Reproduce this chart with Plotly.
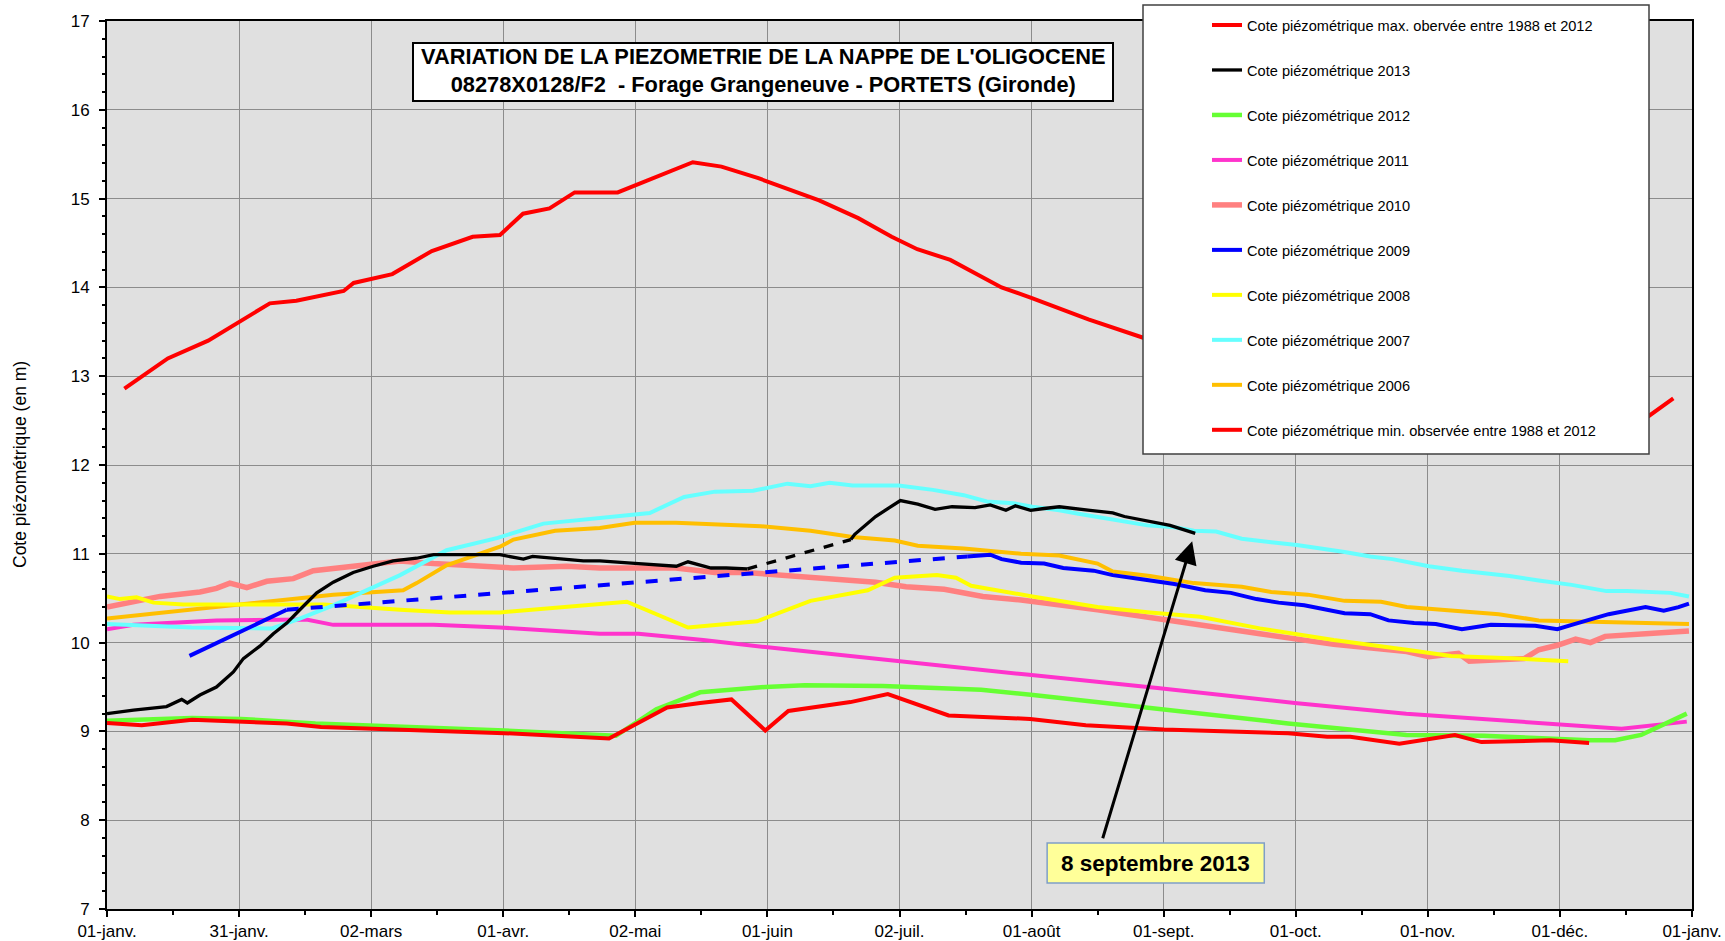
import plotly.graph_objects as go

# ---------------- data (day of year, 0 = 1 Jan) ----------------
tick_labels = ["01-janv.", "31-janv.", "02-mars", "01-avr.", "02-mai", "01-juin",
               "02-juil.", "01-août", "01-sept.", "01-oct.", "01-nov.", "01-déc.", "01-janv."]

max_days = [4, 14, 23.3, 37.5, 43.6, 54.5, 56.8, 61.3, 65.7, 74.8, 84.2, 90.5, 95.8, 101.9,
            107.7, 117.6, 134.9, 141.5, 150, 164, 173, 180.7, 186.6, 194.2, 206, 213, 226,
            238.8, 250, 270, 290, 310, 330, 345, 355, 360.7]
max_vals = [12.86, 13.2, 13.4, 13.82, 13.85, 13.96, 14.05, 14.1, 14.15, 14.41, 14.57, 14.59,
            14.83, 14.89, 15.07, 15.07, 15.41, 15.36, 15.23, 14.98, 14.78, 14.57, 14.43, 14.31,
            14.0, 13.88, 13.64, 13.43, 13.27, 12.98, 12.7, 12.45, 12.3, 12.35, 12.55, 12.75]

min_days = [0, 8, 19.6, 30.9, 41.4, 49.3, 60.7, 91.5, 115.6, 129, 136.6, 143.8, 151.6, 156.9,
            171.2, 179.8, 193.8, 212.6, 225.4, 243.4, 272, 281, 286.3, 297.6, 310.4, 316.5,
            332.3, 341.3]
min_vals = [9.095, 9.07, 9.13, 9.11, 9.09, 9.05, 9.03, 8.98, 8.92, 9.27, 9.32, 9.36, 9.01, 9.23,
            9.33, 9.42, 9.18, 9.14, 9.07, 9.02, 8.98, 8.94, 8.94, 8.86, 8.96, 8.88, 8.90, 8.87]

y2013_days = [0, 6.1, 13.7, 17.2, 18.5, 21.4, 25.2, 29.1, 31.4, 35.2, 38.3, 41.4, 44.4, 48.3,
              52.1, 56.7, 61.3, 65.9, 71.3, 75.2, 81.3, 90.5, 95.9, 98, 109.7, 113.5, 122.4,
              131.1, 133.8, 139.1, 142.6, 147.5]
y2013_vals = [9.20, 9.24, 9.28, 9.36, 9.32, 9.41, 9.50, 9.67, 9.82, 9.96, 10.10, 10.22, 10.37,
              10.56, 10.68, 10.79, 10.86, 10.92, 10.95, 10.99, 10.99, 10.99, 10.94, 10.97, 10.92,
              10.92, 10.89, 10.86, 10.91, 10.84, 10.84, 10.83]
y2013b_days = [171.3, 172.2, 177, 182.7, 186.7, 190.7, 194.6, 199.9, 203.4, 207, 209.2, 212.7,
               215.8, 219.3, 226.4, 231.6, 234.3, 239.6, 244.8, 250.6]
y2013b_vals = [11.16, 11.22, 11.42, 11.60, 11.56, 11.50, 11.53, 11.52, 11.55, 11.49, 11.54,
               11.49, 11.51, 11.53, 11.49, 11.46, 11.42, 11.37, 11.32, 11.23]
y2013_gap_days = [147.5, 171.3]
y2013_gap_vals = [10.83, 11.16]

y2012_days = [0, 19.6, 30.9, 48, 91.5, 115.2, 117.2, 126.5, 136.6, 151.6, 160.7, 178.7, 201.3,
              213.3, 243.4, 272, 299.2, 317, 341.3, 347.3, 353.3, 363.8]
y2012_vals = [9.12, 9.15, 9.14, 9.09, 9.01, 8.95, 8.95, 9.25, 9.44, 9.50, 9.52, 9.51, 9.47,
              9.41, 9.24, 9.09, 8.96, 8.95, 8.90, 8.90, 8.96, 9.20]

y2011_days = [0, 6.1, 25.2, 44.4, 45.9, 52.1, 63.5, 75.2, 90.5, 113.5, 122.4, 137.3, 151.6,
              180.2, 211.8, 241.9, 273.5, 299.2, 332.3, 348.8, 363.8]
y2011_vals = [10.15, 10.20, 10.25, 10.25, 10.26, 10.20, 10.20, 10.20, 10.17, 10.10, 10.10,
              10.03, 9.95, 9.80, 9.64, 9.49, 9.32, 9.20, 9.08, 9.03, 9.11]

y2010_days = [0, 6.1, 12.2, 21.4, 25.2, 28.3, 32.2, 36.8, 42.9, 47.5, 53.7, 61.3, 67.5, 75.2,
              85.9, 93.6, 105.9, 113.5, 131, 140, 147, 155.8, 162.9, 177, 184, 192.8, 201.7,
              210.5, 228.1, 241.4, 251.7, 265.5, 282.5, 299.3, 304.4, 311.2, 313.7, 320.5,
              326.4, 329.7, 334, 338.2, 341.6, 345, 350, 354.3, 364.3]
y2010_vals = [10.40, 10.46, 10.52, 10.57, 10.61, 10.67, 10.62, 10.69, 10.72, 10.81, 10.84,
              10.89, 10.92, 10.89, 10.86, 10.84, 10.86, 10.84, 10.84, 10.79, 10.79, 10.76,
              10.73, 10.68, 10.63, 10.60, 10.52, 10.48, 10.37, 10.27, 10.20, 10.10, 9.98,
              9.90, 9.84, 9.88, 9.79, 9.80, 9.82, 9.92, 9.97, 10.04, 10.00, 10.07, 10.09,
              10.10, 10.13]

y2009_days = [19, 41.4]
y2009_vals = [9.85, 10.37]
y2009_gap_days = [41.4, 198.1]
y2009_gap_vals = [10.37, 10.97]
y2009b_days = [198.1, 201.6, 203.4, 206, 210.5, 215.8, 220.2, 227.2, 231.6, 238.7, 245.8,
               252.9, 258.8, 264.7, 269.8, 275.7, 285, 290.9, 295.1, 301, 306, 312, 318.7,
               328.9, 334, 337.3, 345.8, 354.3, 358.5, 361.9, 364.3]
y2009b_vals = [10.97, 10.98, 10.99, 10.94, 10.90, 10.89, 10.84, 10.81, 10.76, 10.71, 10.66,
               10.59, 10.56, 10.49, 10.45, 10.42, 10.33, 10.32, 10.25, 10.22, 10.21, 10.15,
               10.20, 10.19, 10.15, 10.20, 10.32, 10.40, 10.36, 10.40, 10.44]

y2008_days = [0, 3, 6.8, 10.7, 17.6, 50, 67.5, 79, 90.5, 113.5, 119.7, 133.8, 149.7, 162,
              175.2, 181.4, 191.1, 195.5, 199, 213.1, 228.1, 240.2, 251.7, 265.5, 282.5,
              299.3, 309.5, 324.7, 336.5]
y2008_vals = [10.52, 10.49, 10.51, 10.45, 10.43, 10.43, 10.37, 10.34, 10.34, 10.44, 10.46,
              10.17, 10.24, 10.47, 10.59, 10.73, 10.76, 10.73, 10.64, 10.52, 10.40, 10.34,
              10.29, 10.16, 10.03, 9.92, 9.85, 9.82, 9.79]

y2007_days = [0, 19.5, 38, 44.4, 52.1, 59.8, 67.5, 78.2, 90, 100.5, 113.5, 125, 132.9, 140,
              148.8, 156.7, 162, 166.4, 171.7, 182.3, 190.2, 197.3, 202.6, 208.7, 213.1,
              219.3, 223.7, 230.8, 239.6, 245.8, 250.3, 255.4, 261.3, 268.1, 274, 285,
              290.9, 296, 304.4, 312, 323, 329.7, 337.3, 345.3, 350, 360.1, 364.3]
y2007_vals = [10.21, 10.17, 10.16, 10.27, 10.42, 10.59, 10.76, 11.04, 11.18, 11.34, 11.40,
              11.46, 11.64, 11.70, 11.71, 11.79, 11.76, 11.80, 11.77, 11.77, 11.72, 11.66,
              11.59, 11.57, 11.53, 11.49, 11.45, 11.39, 11.32, 11.30, 11.26, 11.25, 11.17,
              11.13, 11.10, 11.02, 10.97, 10.94, 10.86, 10.81, 10.75, 10.70, 10.65, 10.58,
              10.58, 10.56, 10.52]

y2006_days = [0, 29.1, 52.1, 68.2, 71.3, 78.2, 82.8, 90.5, 93.6, 103.2, 113.5, 121.5, 131,
              150.6, 162, 171.7, 181.4, 186.7, 197.3, 206.1, 210.5, 219.3, 228.1, 231.6,
              236.9, 240.2, 250.3, 261.3, 268.1, 276.5, 285, 293.4, 299.3, 307.8, 320.5,
              329.7, 337.3, 350, 364.3]
y2006_vals = [10.27, 10.42, 10.54, 10.59, 10.67, 10.87, 10.95, 11.08, 11.16, 11.26, 11.29,
              11.35, 11.35, 11.31, 11.26, 11.19, 11.15, 11.09, 11.06, 11.02, 11.00, 10.98,
              10.89, 10.80, 10.77, 10.75, 10.67, 10.63, 10.57, 10.54, 10.47, 10.46, 10.40,
              10.37, 10.32, 10.25, 10.24, 10.23, 10.21]

# ---------------- figure ----------------
FONT = "Liberation Sans, Arial, sans-serif"
YEAR = 365.0
tickvals = [i * YEAR / 12 for i in range(13)]
minorvals = [(i + 0.5) * YEAR / 12 for i in range(12)]

fig = go.Figure()


def add(days, vals, name, color, width, rank, dash="solid", legend=True):
    fig.add_trace(go.Scatter(
        x=days, y=vals, mode="lines", name=name,
        line=dict(color=color, width=width, dash=dash),
        showlegend=legend, legendgroup=name if legend else None,
        legendrank=rank, hoverinfo="skip"))


lab = "Cote piézométrique "
# drawing order (bottom -> top)
add(y2010_days, y2010_vals, lab + "2010", "#ff8080", 5.5, 5)
add(y2006_days, y2006_vals, lab + "2006", "#ffbf00", 4, 9)
add(y2008_days, y2008_vals, lab + "2008", "#ffff00", 4, 7)
add(y2011_days, y2011_vals, lab + "2011", "#ff33cc", 4, 4)
add(y2012_days, y2012_vals, lab + "2012", "#66ff33", 4.5, 3)
add(min_days, min_vals, lab + "min. observée entre 1988 et 2012", "#ff0000", 4, 10)
add(max_days, max_vals, lab + "max. obervée entre 1988 et 2012", "#ff0000", 4, 1)
add(y2007_days, y2007_vals, lab + "2007", "#66ffff", 4, 8)
add(y2009_days, y2009_vals, lab + "2009", "#0000ff", 4, 6)
add(y2009_gap_days, y2009_gap_vals, "2009 gap", "#0000ff", 4, 99, dash="dash", legend=False)
add(y2009b_days, y2009b_vals, "2009b", "#0000ff", 4, 99, legend=False)
add(y2013_days, y2013_vals, lab + "2013", "#000000", 3.3, 2)
add(y2013_gap_days, y2013_gap_vals, "2013 gap", "#000000", 3.3, 99, dash="dash", legend=False)
add(y2013b_days, y2013b_vals, "2013b", "#000000", 3.3, 99, legend=False)

W, H = 1725, 941
L, R, T, B = 107, 33, 21, 32
pw, ph = W - L - R, H - T - B


def px(x):
    return (x - L) / pw


def py(y):
    return (H - B - y) / ph


shapes = [
    # legend box
    dict(type="rect", xref="paper", yref="paper", x0=px(1143), x1=px(1649), y0=py(454), y1=py(5),
         fillcolor="white", line=dict(color="#404040", width=1.5), layer="above"),
    # title box
    dict(type="rect", xref="paper", yref="paper", x0=px(413), x1=px(1113), y0=py(101), y1=py(43),
         fillcolor="white", line=dict(color="black", width=2), layer="above"),
    # date label box
    dict(type="rect", xref="x", yref="y", x0=216.5, x1=266.5, y0=7.293, y1=7.743,
         fillcolor="#ffff99", line=dict(color="#7f9fc7", width=1.5), layer="above"),
]

annotations = [
    dict(xref="paper", yref="paper", x=px(763), y=py(71), xanchor="center", yanchor="middle",
         text="VARIATION DE LA PIEZOMETRIE DE LA NAPPE DE L'OLIGOCENE<br>"
              "08278X0128/F2  - Forage Grangeneuve - PORTETS (Gironde)",
         showarrow=False, font=dict(family=FONT, size=21.8, color="black", weight="bold")),
    dict(xref="x", yref="y", x=241.5, y=7.518, xanchor="center", yanchor="middle",
         text="8 septembre 2013", showarrow=False,
         font=dict(family=FONT, size=22.5, color="black", weight="bold")),
    dict(xref="x", yref="y", axref="x", ayref="y", x=249.9, y=11.14, ax=229.2, ay=7.78,
         text="", showarrow=True, arrowhead=2, arrowsize=1.5, arrowwidth=3, arrowcolor="black"),
    dict(xref="paper", yref="paper", x=px(20), y=0.5, xanchor="center", yanchor="middle",
         text="Cote piézométrique (en m)", textangle=-90, showarrow=False,
         font=dict(family=FONT, size=17.5, color="black")),
]

fig.update_layout(
    width=W, height=H,
    margin=dict(l=L, r=R, t=T, b=B, pad=0, autoexpand=False),
    paper_bgcolor="white", plot_bgcolor="#e0e0e0",
    font=dict(family=FONT, size=17, color="black"),
    shapes=shapes, annotations=annotations,
    showlegend=True,
    legend=dict(x=px(1207), y=py(9), xanchor="left", yanchor="top",
                bgcolor="rgba(0,0,0,0)", borderwidth=0, tracegroupgap=23,
                traceorder="grouped",
                font=dict(family=FONT, size=14.6, color="black")),
    xaxis=dict(range=[0, YEAR], tickmode="array", tickvals=tickvals, ticktext=tick_labels,
               showgrid=True, gridcolor="#8c8c8c", gridwidth=1.3, zeroline=False,
               showline=True, linecolor="black", linewidth=2, mirror=True,
               ticks="outside", ticklen=6, tickwidth=2, tickcolor="black",
               tickfont=dict(family=FONT, size=17),
               minor=dict(tickmode="array", tickvals=minorvals, ticks="outside", ticklen=4,
                          tickwidth=2, tickcolor="black", showgrid=False),
               automargin=False, fixedrange=True),
    yaxis=dict(range=[7, 17], tickmode="linear", tick0=7, dtick=1,
               showgrid=True, gridcolor="#8c8c8c", gridwidth=1.3, zeroline=False,
               showline=True, linecolor="black", linewidth=2, mirror=True,
               ticks="outside", ticklen=6, tickwidth=2, tickcolor="black",
               tickfont=dict(family=FONT, size=17), ticklabelstandoff=6,
               minor=dict(dtick=0.2, tick0=7, ticks="outside", ticklen=3.5, tickwidth=2,
                          tickcolor="black", showgrid=False),
               automargin=False, fixedrange=True),
)

fig.write_html("out.html", config={"displayModeBar": False},
               post_script="document.body.style.margin='0';document.body.style.overflow='hidden';")
